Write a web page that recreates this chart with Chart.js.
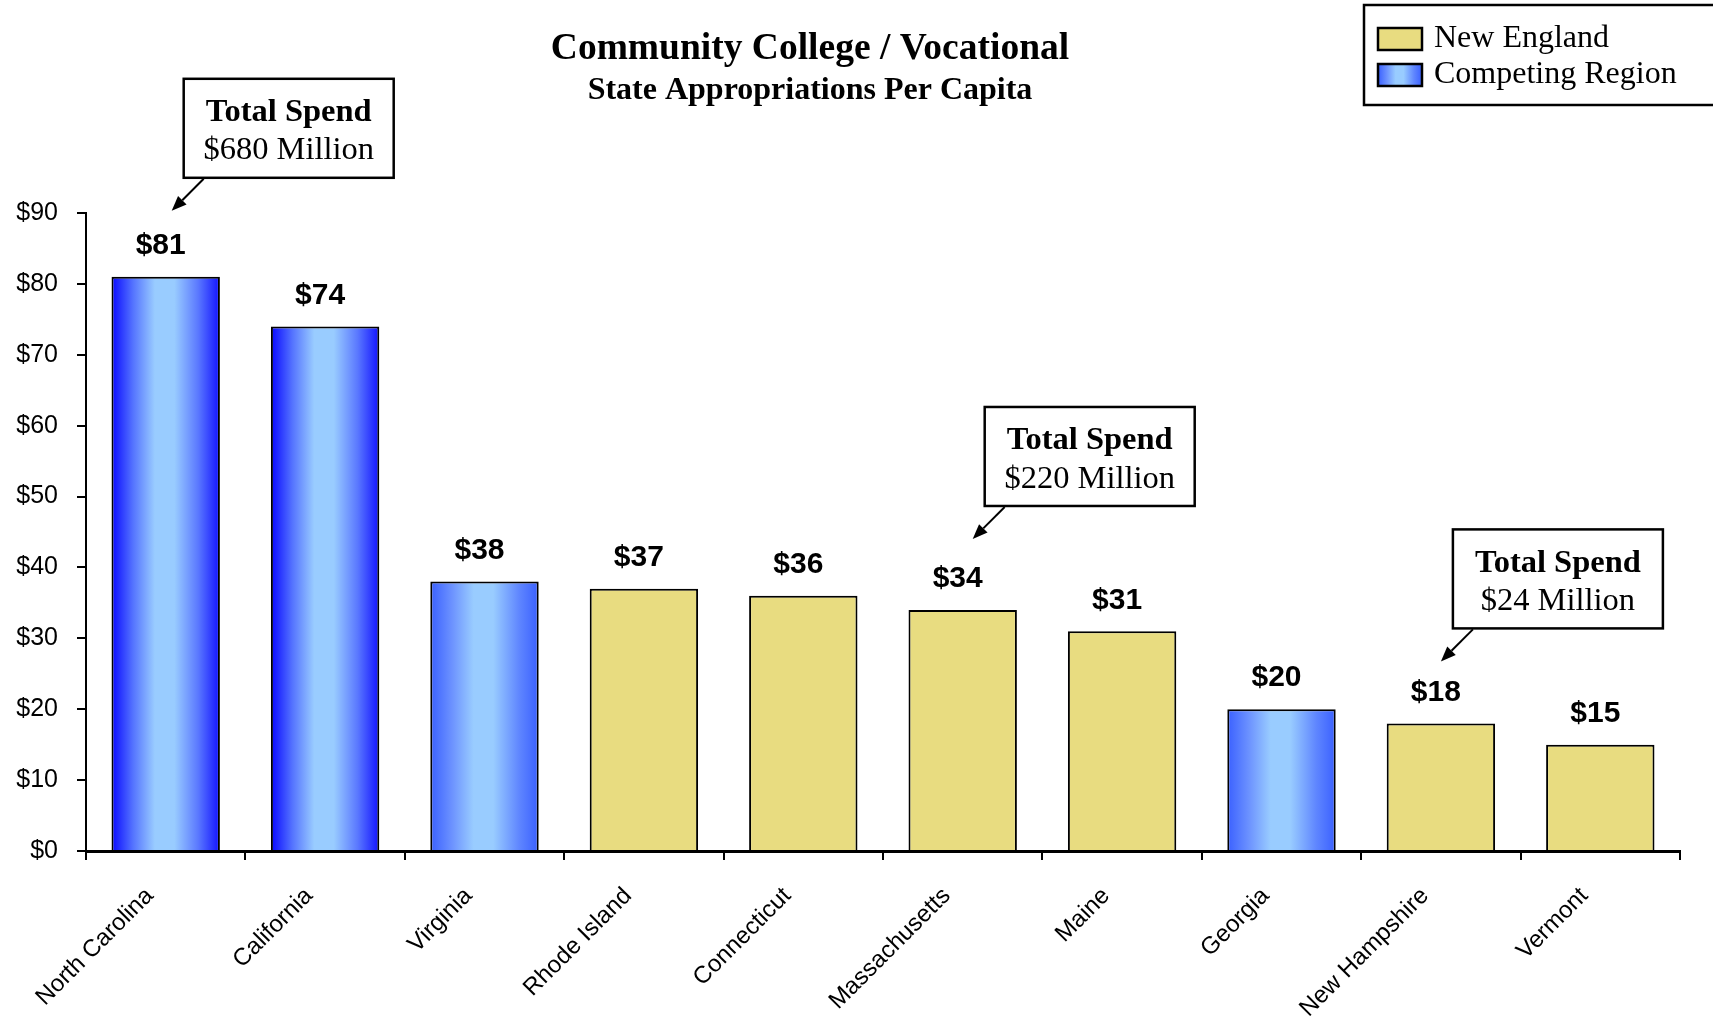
<!DOCTYPE html>
<html>
<head>
<meta charset="utf-8">
<title>Community College / Vocational</title>
<script src="https://cdn.jsdelivr.net/npm/chart.js@4.4.1/dist/chart.umd.min.js"></script>
<style>
  html, body { margin: 0; padding: 0; background: #fff; }
</style>
</head>
<body>
<canvas id="chart" width="1713" height="1019"></canvas>
<script>
// data
var states = ["North Carolina", "California", "Virginia", "Rhode Island", "Connecticut",
              "Massachusetts", "Maine", "Georgia", "New Hampshire", "Vermont"];
var perCapita = [81, 74, 38, 37, 36, 34, 31, 20, 18, 15];
var regionOf = ["CR", "CR", "CR", "NE", "NE", "NE", "NE", "CR", "NE", "NE"];
var regionNames = { NE: "New England", CR: "Competing Region" };
var yMax = 90, yStep = 10;

// call-out boxes with total spend
var calloutStates = ["North Carolina", "Massachusetts", "New Hampshire"];
var calloutAmounts = ["$680 Million", "$220 Million", "$24 Million"];

var serif = "'Times New Roman', 'Liberation Serif', serif";
var sans = "Arial, 'Liberation Sans', sans-serif";
var BAR_PCT = 0.68;
var yellow = "#e8dc80";

// the two tall bars use a deeper blue at the edges
var deepEdge = { "North Carolina": true, "California": true };

// little nudges for the arrow tips (px relative to the bar top centre)
var tipNudge = [[6, -66], [10, -71], [0, -62]];

function blueGradient(ctx, x0, x1, deep) {
  var g = ctx.createLinearGradient(x0, 0, x1, 0);
  if (deep) {
    g.addColorStop(0, "#0808ff");
    g.addColorStop(0.2, "#5574ff");
    g.addColorStop(0.4, "#99ccff");
    g.addColorStop(0.58, "#99ccff");
    g.addColorStop(0.8, "#5a78ff");
    g.addColorStop(1, "#1212ff");
  } else {
    g.addColorStop(0, "#3a60ff");
    g.addColorStop(0.2, "#6c92ff");
    g.addColorStop(0.4, "#99ccff");
    g.addColorStop(0.58, "#99ccff");
    g.addColorStop(0.82, "#5f86ff");
    g.addColorStop(1, "#3a60ff");
  }
  return g;
}

function blueFill(c) {
  var chart = c.chart, xs = chart.scales && chart.scales.x;
  if (!xs || !chart.chartArea || c.type !== "data") return "#4d6dff";
  var cx = xs.getPixelForValue(c.dataIndex);
  var half = xs.width / states.length * BAR_PCT / 2;
  if (!isFinite(cx) || !isFinite(half)) return "#4d6dff";
  return blueGradient(chart.ctx, cx - half, cx + half, deepEdge[states[c.dataIndex]]);
}

function valuesFor(r) {
  return perCapita.map(function (v, i) { return regionOf[i] === r ? v : null; });
}

// titles
var titlePlugin = {
  id: "titles",
  afterDraw: function (chart) {
    var ctx = chart.ctx;
    ctx.save();
    ctx.fillStyle = "#000";
    ctx.textAlign = "center";
    ctx.textBaseline = "middle";
    ctx.font = "bold 37.5px " + serif;
    ctx.fillText("Community College / Vocational", 810, 49);
    ctx.font = "bold 32px " + serif;
    ctx.fillText("State Appropriations Per Capita", 810, 91);
    ctx.restore();
  }
};

// legend box at the top right
var legendPlugin = {
  id: "legendBox",
  afterDraw: function (chart) {
    var ctx = chart.ctx;
    ctx.save();
    ctx.fillStyle = "#fff";
    ctx.fillRect(1364, 5, 360, 100);
    ctx.lineWidth = 2.5;
    ctx.strokeStyle = "#000";
    ctx.strokeRect(1364, 5, 360, 100);

    var rows = [["NE", 28], ["CR", 64]];
    rows.forEach(function (r) {
      ctx.fillStyle = r[0] === "NE" ? yellow : blueGradient(ctx, 1378, 1422, false);
      ctx.fillRect(1378, r[1], 44, 22);
      ctx.lineWidth = 2.5;
      ctx.strokeRect(1378, r[1], 44, 22);
      ctx.fillStyle = "#000";
      ctx.font = "32px " + serif;
      ctx.textAlign = "left";
      ctx.textBaseline = "middle";
      ctx.fillText(regionNames[r[0]], 1434, r[1] + 11);
    });
    ctx.restore();
  }
};

// "$81" style labels above each bar
var valueLabels = {
  id: "valueLabels",
  afterDatasetsDraw: function (chart) {
    var ctx = chart.ctx;
    ctx.save();
    ctx.fillStyle = "#000";
    ctx.font = "bold 30px " + sans;
    ctx.textAlign = "center";
    ctx.textBaseline = "middle";
    chart.data.datasets.forEach(function (ds, di) {
      chart.getDatasetMeta(di).data.forEach(function (bar, i) {
        if (ds.data[i] == null) return;
        ctx.fillText("$" + ds.data[i], bar.x - 5, bar.y - 31);
      });
    });
    ctx.restore();
  }
};

// total spend boxes with arrows
var callouts = {
  id: "callouts",
  afterDraw: function (chart) {
    var ctx = chart.ctx, xs = chart.scales.x, ys = chart.scales.y;
    ctx.save();
    calloutStates.forEach(function (st, k) {
      var i = states.indexOf(st);
      var tx = xs.getPixelForValue(i) + tipNudge[k][0];
      var ty = ys.getPixelForValue(perCapita[i]) + tipNudge[k][1];
      var w = 210, h = 99;
      var left = tx + 12, bottom = ty - 33, top = bottom - h;

      ctx.fillStyle = "#fff";
      ctx.fillRect(left, top, w, h);
      ctx.strokeStyle = "#000";
      ctx.lineWidth = 2.5;
      ctx.strokeRect(left, top, w, h);

      ctx.fillStyle = "#000";
      ctx.textAlign = "center";
      ctx.textBaseline = "middle";
      ctx.font = "bold 32.5px " + serif;
      ctx.fillText("Total Spend", left + w / 2, top + 34);
      ctx.font = "32.5px " + serif;
      ctx.fillText(calloutAmounts[k], left + w / 2, top + 72);

      // arrow
      var sx = left + 20, sy = bottom + 1;
      var ang = Math.atan2(ty - sy, tx - sx);
      var hl = 15, hw = 6;
      var bx = tx - hl * Math.cos(ang), by = ty - hl * Math.sin(ang);
      ctx.lineWidth = 2;
      ctx.beginPath();
      ctx.moveTo(sx, sy);
      ctx.lineTo(bx, by);
      ctx.stroke();
      ctx.beginPath();
      ctx.moveTo(tx, ty);
      ctx.lineTo(bx + hw * Math.sin(ang), by - hw * Math.cos(ang));
      ctx.lineTo(bx - hw * Math.sin(ang), by + hw * Math.cos(ang));
      ctx.closePath();
      ctx.fill();
    });
    ctx.restore();
  }
};

new Chart(document.getElementById("chart"), {
  type: "bar",
  data: {
    labels: states,
    datasets: [
      {
        label: regionNames.CR,
        data: valuesFor("CR"),
        backgroundColor: blueFill,
        borderColor: "#000",
        borderWidth: 2
      },
      {
        label: regionNames.NE,
        data: valuesFor("NE"),
        backgroundColor: yellow,
        borderColor: "#000",
        borderWidth: 2
      }
    ]
  },
  options: {
    responsive: false,
    animation: false,
    layout: { padding: { top: 213, right: 33, bottom: 0, left: 0 } },
    datasets: {
      bar: { grouped: false, categoryPercentage: 1, barPercentage: BAR_PCT, skipNull: true }
    },
    plugins: {
      legend: { display: false },
      title: { display: false },
      tooltip: { enabled: false }
    },
    scales: {
      x: {
        offset: true,
        grid: { offset: true, drawOnChartArea: false, drawTicks: true, tickLength: 9, color: "#000", lineWidth: 2 },
        border: { display: true, color: "#000", width: 3 },
        ticks: {
          color: "#000",
          font: { family: sans, size: 24 },
          minRotation: 45,
          maxRotation: 45,
          autoSkip: false,
          padding: 22,
          labelOffset: -16
        },
        afterFit: function (s) { s.height = 168; }
      },
      y: {
        min: 0,
        max: yMax,
        grid: { drawOnChartArea: false, drawTicks: true, tickLength: 9, color: "#000", lineWidth: 2 },
        border: { display: true, color: "#000", width: 2 },
        ticks: {
          stepSize: yStep,
          color: "#000",
          padding: 19,
          font: { family: sans, size: 25 },
          callback: function (v) { return "$" + v; }
        },
        afterFit: function (s) { s.width = 86; }
      }
    }
  },
  plugins: [titlePlugin, legendPlugin, valueLabels, callouts]
});
</script>
</body>
</html>
